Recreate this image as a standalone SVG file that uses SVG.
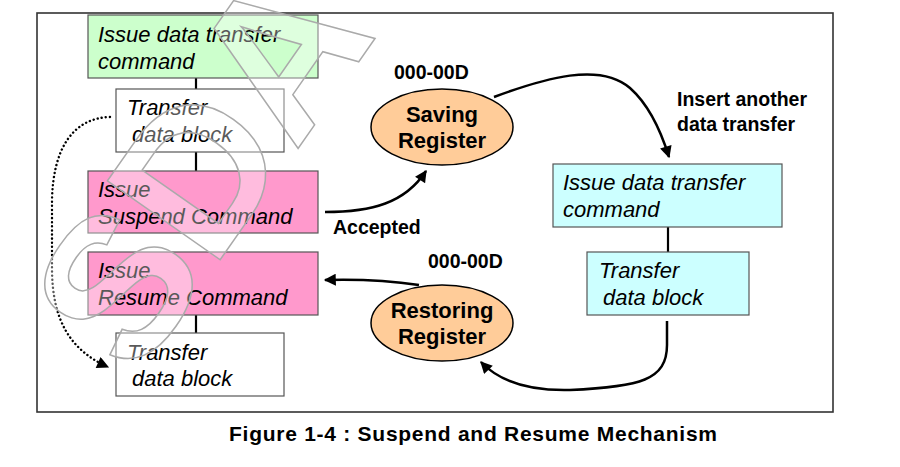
<svg xmlns="http://www.w3.org/2000/svg" width="900" height="467" viewBox="0 0 900 467">
<defs>
<style>
.box{stroke:#555;stroke-width:1.2}
.g{fill:#ccffcc}.w{fill:#ffffff}.p{fill:#ff99cc}.c{fill:#ccffff}
.ell{fill:#ffcc99;stroke:#000;stroke-width:1.5}
.it{font-family:"Liberation Sans",Arial,sans-serif;font-style:italic;font-size:22px;fill:#000}
.bl{font-family:"Liberation Sans",Arial,sans-serif;font-weight:bold;font-size:19.5px;fill:#000}
.el{font-family:"Liberation Sans",Arial,sans-serif;font-weight:bold;font-size:22px;fill:#000;text-anchor:middle}
.link{stroke:#000;stroke-width:2.2;fill:none}
.arr{stroke:#000;stroke-width:2.5;fill:none;marker-end:url(#ah)}
.dot{stroke:#000;stroke-width:2.4;fill:none;stroke-dasharray:0.1 4;stroke-linecap:round;marker-end:url(#ah)}
.wm{font-family:"Liberation Sans",Arial,sans-serif;font-weight:bold;font-size:200px;fill:#fff;fill-opacity:0.35;stroke:#aaa;stroke-width:1.5}
</style>
<marker id="ah" viewBox="0 0 10 10" refX="9" refY="5" markerWidth="14" markerHeight="12" markerUnits="userSpaceOnUse" orient="auto">
<path d="M0,0 L10,5 L0,10 z" fill="#000"/>
</marker>
</defs>
<rect x="0" y="0" width="900" height="467" fill="#fff"/>
<rect id="frame" x="37" y="13" width="796" height="399" fill="#fff" stroke="#333" stroke-width="1.6"/>

<g id="connectors">
<line class="link" x1="196" y1="78" x2="196" y2="89"/>
<line class="link" x1="196" y1="152" x2="196" y2="171"/>
<line class="link" x1="196" y1="315" x2="196" y2="333"/>
<line class="link" x1="668" y1="227" x2="668" y2="252"/>
<path class="arr" d="M325,212 C372,212 405,203 426,171"/>
<path class="arr" d="M494,97 C545,78 600,62 630,88 C648,104 660,128 669,157"/>
<path class="arr" d="M419,285 C392,281 360,279 325,280"/>
<path class="arr" d="M667,321 L667,345 C667,380 640,387 570,390 C530,391 500,382 481,362"/>
<path class="dot" d="M110,117 C72,118 53,150 52,200 L52,268 C52,320 70,350 108,367"/>
</g>

<g id="n-issue-cmd">
<rect class="box g" x="88" y="15" width="230" height="63"/>
<text class="it" x="98" y="41.5">Issue data transfer</text>
<text class="it" x="98" y="68.5">command</text>
</g>
<g id="n-transfer1">
<rect class="box w" x="116" y="89" width="168" height="63"/>
<text class="it" x="127" y="115">Transfer</text>
<text class="it" x="132" y="141.5">data block</text>
</g>
<g id="n-suspend">
<rect class="box p" x="88" y="171" width="230" height="62"/>
<text class="it" x="98" y="197">Issue</text>
<text class="it" x="98" y="224">Suspend Command</text>
</g>
<g id="n-resume">
<rect class="box p" x="88" y="252" width="230" height="63"/>
<text class="it" x="98" y="278">Issue</text>
<text class="it" x="98" y="305">Resume Command</text>
</g>
<g id="n-transfer2">
<rect class="box w" x="116" y="333" width="168" height="63"/>
<text class="it" x="127" y="360">Transfer</text>
<text class="it" x="132" y="386">data block</text>
</g>
<g id="n-issue-cmd2">
<rect class="box c" x="553" y="164" width="229" height="63"/>
<text class="it" x="563" y="190">Issue data transfer</text>
<text class="it" x="563" y="217">command</text>
</g>
<g id="n-transfer3">
<rect class="box c" x="587" y="252" width="162" height="63"/>
<text class="it" x="599" y="278">Transfer</text>
<text class="it" x="603" y="305">data block</text>
</g>
<g id="n-saving">
<ellipse class="ell" cx="442" cy="127" rx="71" ry="38"/>
<text class="el" x="442" y="122">Saving</text>
<text class="el" x="442" y="148">Register</text>
</g>
<g id="n-restoring">
<ellipse class="ell" cx="442" cy="323" rx="71" ry="38"/>
<text class="el" x="442" y="318">Restoring</text>
<text class="el" x="442" y="344">Register</text>
</g>

<g id="labels">
<text class="bl" x="394" y="79">000-00D</text>
<text class="bl" x="428" y="268">000-00D</text>
<text class="bl" x="333" y="234">Accepted</text>
<text class="bl" x="677" y="106">Insert another</text>
<text class="bl" x="677" y="131">data transfer</text>
</g>

<g id="watermark">
<text class="wm" x="0" y="0" transform="translate(136,380) rotate(-55)">SDA</text>
</g>

<text id="caption" x="473" y="441" text-anchor="middle" textLength="488" lengthAdjust="spacing" font-family="'Liberation Sans',Arial,sans-serif" font-weight="bold" font-size="21" fill="#000">Figure 1-4 : Suspend and Resume Mechanism</text>
</svg>
